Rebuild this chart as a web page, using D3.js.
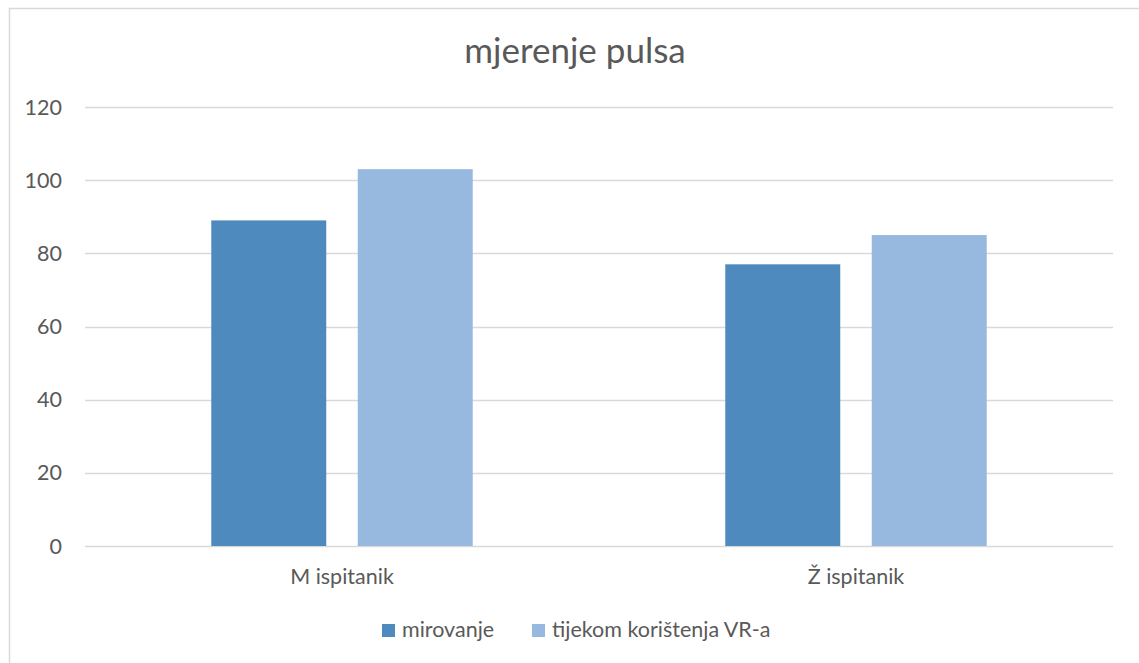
<!DOCTYPE html>
<html>
<head>
<meta charset="utf-8">
<script src="https://cdn.jsdelivr.net/npm/d3@7"></script>
<style>
  body { margin: 0; background: #fff; }
  text { font-family: Lato, "Open Sans", sans-serif; fill: #595959; }
</style>
</head>
<body>
<svg id="chart"></svg>
<script>
// data
const categories = ['M ispitanik', 'Ž ispitanik'];
const seriesNames = ['mirovanje', 'tijekom korištenja VR-a'];
const mirovanje = [89, 77];
const tijekomVR = [103, 85];
const yTicks = [0, 20, 40, 60, 80, 100, 120];
const colors = ['#4f8abe', '#98b9df'];

const width = 1139;
const height = 663;
const margin = { top: 107, right: 26, bottom: 117, left: 85 };

const svg = d3.select('#chart')
    .attr('width', width)
    .attr('height', height);

//-------chart frame (only left and top edges are visible)
svg.append('path')
    .attr('d', `M9.5,${height} V8.5 H${width}`)
    .attr('fill', 'none')
    .attr('stroke', '#d9d9d9')
    .attr('stroke-width', 1.5);

const x0 = d3.scaleBand()
    .domain(categories)
    .range([margin.left, width - margin.right]);

const x1 = d3.scaleBand()
    .domain(seriesNames)
    .range([0, x0.bandwidth()])
    .paddingInner(0.215)
    .paddingOuter(0.862);

const y = d3.scaleLinear()
    .domain([0, 120])
    .range([height - margin.bottom, margin.top]);

//-------gridlines
svg.append('g')
    .selectAll('line')
    .data(yTicks)
    .join('line')
      .attr('x1', margin.left)
      .attr('x2', width - margin.right)
      .attr('y1', d => Math.round(y(d)) + 0.5)
      .attr('y2', d => Math.round(y(d)) + 0.5)
      .attr('stroke', '#d9d9d9')
      .attr('stroke-width', 1.5);

//-------y labels
svg.append('g')
    .selectAll('text')
    .data(yTicks)
    .join('text')
      .attr('x', 62)
      .attr('y', d => y(d))
      .attr('dy', '0.35em')
      .attr('text-anchor', 'end')
      .attr('font-size', 21.5)
      .text(d => d);

//-------bars
const rows = categories.map((c, i) => ({ cat: c, vals: [mirovanje[i], tijekomVR[i]] }));

svg.append('g')
    .selectAll('g')
    .data(rows)
    .join('g')
      .attr('transform', d => `translate(${x0(d.cat)},0)`)
    .selectAll('rect')
    .data(d => d.vals.map((v, j) => ({ key: seriesNames[j], v, j })))
    .join('rect')
      .attr('x', d => x1(d.key))
      .attr('width', x1.bandwidth())
      .attr('y', d => y(d.v))
      .attr('height', d => y(0) - y(d.v))
      .attr('fill', d => colors[d.j]);

//-------x labels
svg.append('g')
    .selectAll('text')
    .data(categories)
    .join('text')
      .attr('x', d => x0(d) + x0.bandwidth() / 2)
      .attr('y', 584)
      .attr('text-anchor', 'middle')
      .attr('font-size', 21.5)
      .text(d => d);

//-------title
svg.append('text')
    .attr('x', 575)
    .attr('y', 63)
    .attr('text-anchor', 'middle')
    .attr('font-size', 35)
    .text('mjerenje pulsa');

//-------legend
const legendPos = [382, 532];
const legend = svg.append('g')
    .selectAll('g')
    .data(seriesNames)
    .join('g')
      .attr('transform', (d, i) => `translate(${legendPos[i]},624)`);
legend.append('rect')
    .attr('width', 13)
    .attr('height', 13)
    .attr('fill', (d, i) => colors[i]);
legend.append('text')
    .attr('x', 20)
    .attr('y', 13)
    .attr('font-size', 21.5)
    .text(d => d);
</script>
</body>
</html>
